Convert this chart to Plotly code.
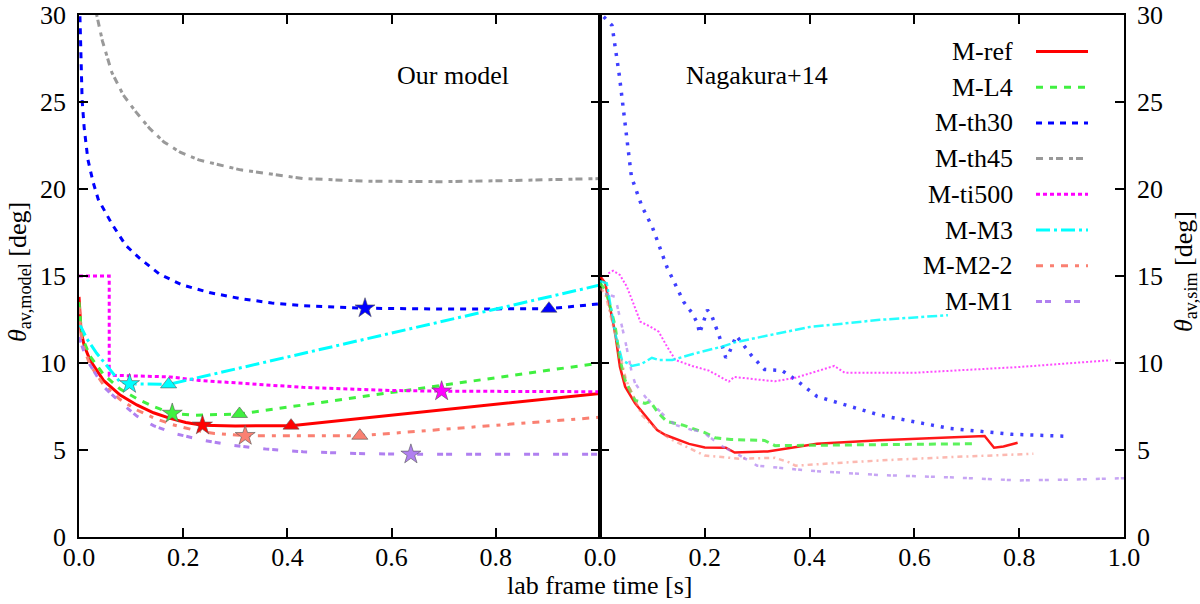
import plotly.graph_objects as go

# ---------------- data: left panel (our model) ----------------
ref_t = [0, 0.004, 0.01, 0.021, 0.047, 0.079, 0.111, 0.143, 0.175, 0.205, 0.237, 0.3, 0.407, 1.0]
ref_v = [13.8, 11.8, 11.0, 10.17, 9.0, 8.16, 7.59, 7.14, 6.82, 6.58, 6.42, 6.38, 6.4, 8.25]

l4_t = [0, 0.004, 0.01, 0.021, 0.047, 0.079, 0.111, 0.143, 0.179, 0.22, 0.308, 1.0]
l4_v = [13.5, 12.0, 11.2, 10.4, 9.35, 8.5, 7.95, 7.5, 7.1, 7.0, 7.07, 10.0]

th30_t = [0, 0.002, 0.004, 0.006, 0.01, 0.017, 0.027, 0.037, 0.063, 0.09, 0.117, 0.155, 0.197, 0.25, 0.31, 0.37, 0.43, 0.549, 0.7, 0.902, 1.0]
th30_v = [32, 30, 28, 25.1, 23.5, 21.7, 20.4, 19.4, 18.0, 16.75, 16.0, 15.1, 14.5, 14.05, 13.7, 13.45, 13.3, 13.15, 13.1, 13.12, 13.4]

th45_t = [0.025, 0.034, 0.045, 0.063, 0.085, 0.11, 0.135, 0.163, 0.195, 0.23, 0.31, 0.43, 0.55, 0.7, 0.85, 1.0]
th45_v = [32, 30, 28.5, 26.7, 25.4, 24.4, 23.5, 22.7, 22.1, 21.67, 21.1, 20.6, 20.45, 20.42, 20.5, 20.6]

ti500_t = [0, 0.058, 0.058, 0.175, 0.23, 0.43, 0.6, 0.696, 1.0]
ti500_v = [15, 15, 9.3, 9.2, 9.0, 8.6, 8.42, 8.38, 8.35]

m3_t = [0, 0.015, 0.034, 0.06, 0.079, 0.097, 0.172, 1.0]
m3_v = [12.3, 11.4, 10.56, 9.6, 8.9, 8.8, 8.77, 14.48]

m22_t = [0, 0.004, 0.01, 0.021, 0.047, 0.079, 0.111, 0.143, 0.18, 0.22, 0.26, 0.319, 0.539, 1.0]
m22_v = [13.2, 11.6, 10.8, 9.9, 8.75, 7.9, 7.3, 6.85, 6.45, 6.15, 5.95, 5.82, 5.82, 6.88]

m1_t = [0, 0.01, 0.021, 0.047, 0.079, 0.111, 0.143, 0.184, 0.24, 0.297, 0.36, 0.43, 0.53, 0.637, 1.0]
m1_v = [11.5, 10.6, 9.9, 8.64, 7.75, 6.95, 6.4, 5.94, 5.55, 5.26, 5.05, 4.9, 4.8, 4.75, 4.75]

# markers (stars and triangles) on the model curves
star_t = {"M-ref": 0.237, "M-L4": 0.179, "M-th30": 0.549, "M-ti500": 0.696, "M-M3": 0.097, "M-M2-2": 0.319, "M-M1": 0.637}
star_v = {"M-ref": 6.42, "M-L4": 7.1, "M-th30": 13.15, "M-ti500": 8.38, "M-M3": 8.8, "M-M2-2": 5.82, "M-M1": 4.75}
tri_t = {"M-ref": 0.407, "M-L4": 0.308, "M-th30": 0.902, "M-M3": 0.172, "M-M2-2": 0.539}
tri_v = {"M-ref": 6.4, "M-L4": 7.07, "M-th30": 13.12, "M-M3": 8.77, "M-M2-2": 5.82}

# ---------------- data: right panel (Nagakura+14) ----------------
s_ref_t = [0.0, 0.01, 0.019, 0.029, 0.038, 0.048, 0.067, 0.083, 0.096, 0.109, 0.125, 0.15, 0.17, 0.2, 0.24, 0.257, 0.32, 0.414, 0.534, 0.734, 0.752, 0.77, 0.797]
s_ref_v = [15.0, 14.6, 13.2, 11.7, 9.79, 8.64, 7.68, 7.1, 6.63, 6.15, 5.86, 5.57, 5.35, 5.15, 5.13, 4.85, 4.92, 5.36, 5.56, 5.8, 5.13, 5.2, 5.42]

s_l4_t = [0.0, 0.01, 0.019, 0.029, 0.038, 0.048, 0.067, 0.086, 0.096, 0.112, 0.128, 0.157, 0.2, 0.22, 0.25, 0.314, 0.334, 0.5, 0.714]
s_l4_v = [14.6, 14.2, 13.3, 12.1, 10.2, 9.0, 7.85, 7.68, 7.78, 7.1, 6.63, 6.44, 6.0, 5.7, 5.6, 5.55, 5.25, 5.3, 5.36]

s_th30_t = [0.007, 0.023, 0.037, 0.05, 0.06, 0.08, 0.1, 0.128, 0.16, 0.176, 0.186, 0.19, 0.198, 0.205, 0.214, 0.228, 0.24, 0.246, 0.26, 0.29, 0.314, 0.347, 0.373, 0.414, 0.534, 0.667, 0.787, 0.89]
s_th30_v = [29.9, 29.4, 26.5, 23.2, 20.7, 19.0, 17.8, 15.5, 13.5, 12.86, 12.28, 11.7, 12.47, 13.05, 12.66, 11.5, 10.3, 10.55, 11.57, 10.4, 9.63, 9.57, 9.05, 8.08, 7.0, 6.24, 5.9, 5.79]

s_ti500_t = [0.016, 0.025, 0.038, 0.051, 0.064, 0.077, 0.096, 0.112, 0.128, 0.144, 0.176, 0.208, 0.246, 0.256, 0.3, 0.334, 0.373, 0.447, 0.467, 0.6, 0.8, 0.974]
s_ti500_v = [15.15, 15.3, 15.06, 14.4, 13.4, 12.37, 12.09, 11.8, 10.94, 10.17, 9.83, 9.56, 8.93, 9.2, 9.05, 8.95, 9.15, 9.83, 9.44, 9.44, 9.77, 10.16]

s_m3_t = [0.0, 0.013, 0.029, 0.042, 0.061, 0.08, 0.099, 0.112, 0.138, 0.182, 0.233, 0.259, 0.4, 0.534, 0.664]
s_m3_v = [14.7, 14.58, 11.7, 10.17, 9.83, 9.96, 10.3, 10.17, 10.17, 10.56, 10.94, 11.2, 12.07, 12.48, 12.75]

s_m22_t = [0.0, 0.01, 0.03, 0.05, 0.08, 0.1, 0.133, 0.2, 0.267, 0.334, 0.36, 0.373, 0.45, 0.534, 0.667, 0.827]
s_m22_v = [14.3, 14.0, 11.5, 9.0, 7.0, 6.4, 5.65, 4.68, 4.5, 4.55, 4.3, 4.1, 4.25, 4.4, 4.59, 4.78]

s_m1_t = [0.01, 0.029, 0.035, 0.048, 0.061, 0.067, 0.086, 0.105, 0.125, 0.144, 0.176, 0.195, 0.218, 0.234, 0.267, 0.3, 0.4, 0.534, 0.667, 0.8, 0.9, 1.0]
s_m1_v = [14.0, 13.8, 13.0, 11.3, 9.4, 8.83, 8.07, 7.5, 6.9, 6.44, 6.15, 6.05, 5.57, 5.2, 4.68, 4.1, 3.81, 3.56, 3.43, 3.25, 3.3, 3.38]

names = ["M-ref", "M-L4", "M-th30", "M-th45", "M-ti500", "M-M3", "M-M2-2", "M-M1"]
model_t = [ref_t, l4_t, th30_t, th45_t, ti500_t, m3_t, m22_t, m1_t]
model_v = [ref_v, l4_v, th30_v, th45_v, ti500_v, m3_v, m22_v, m1_v]
sim_t = [s_ref_t, s_l4_t, s_th30_t, None, s_ti500_t, s_m3_t, s_m22_t, s_m1_t]
sim_v = [s_ref_v, s_l4_v, s_th30_v, None, s_ti500_v, s_m3_v, s_m22_v, s_m1_v]

x_ticks_left = [0.0, 0.2, 0.4, 0.6, 0.8]
x_ticks_right = [0.0, 0.2, 0.4, 0.6, 0.8, 1.0]
y_ticks = [0, 5, 10, 15, 20, 25, 30]

# ---------------- styles ----------------
colors = {"M-ref": "#ff0000", "M-L4": "#40f040", "M-th30": "#0000ff", "M-th45": "#999999",
          "M-ti500": "#ff00ff", "M-M3": "#00ffff", "M-M2-2": "#fa8072", "M-M1": "#b080f0"}
dashes = {"M-ref": "solid", "M-L4": "7px,7px", "M-th30": "6px,6px", "M-th45": "7px,6px,4px,3px",
          "M-ti500": "4px,3px", "M-M3": "14px,4px,3px,4px", "M-M2-2": "7px,7px,4px,7px",
          "M-M1": "6px,3px,6px,14px"}
sim_dashes = {"M-ref": "solid", "M-L4": "7px,5px", "M-th30": "3px,7px", "M-ti500": "2px,2px",
              "M-M3": "10px,3px,3px,3px", "M-M2-2": "5px,4px,2px,4px", "M-M1": "4px,2px,4px,9px"}
sim_width = {"M-ref": 2.5, "M-L4": 3, "M-th30": 3.5, "M-ti500": 2, "M-M3": 2.5, "M-M2-2": 2.5, "M-M1": 2.5}
sim_opacity = {"M-ref": 0.9, "M-L4": 0.85, "M-th30": 0.75, "M-ti500": 0.7, "M-M3": 0.85, "M-M2-2": 0.55, "M-M1": 0.7}

FONT = "Liberation Serif, Times New Roman, DejaVu Serif, serif"
FS = 26

fig = go.Figure()

for i, n in enumerate(names):
    fig.add_trace(go.Scatter(x=model_t[i], y=model_v[i], mode="lines", xaxis="x", yaxis="y",
                             line=dict(color=colors[n], width=3, dash=dashes[n]), showlegend=False))
for i, n in enumerate(names):
    if sim_t[i] is None:
        continue
    fig.add_trace(go.Scatter(x=sim_t[i], y=sim_v[i], mode="lines", xaxis="x2", yaxis="y2",
                             opacity=sim_opacity[n],
                             line=dict(color=colors[n], width=sim_width[n], dash=sim_dashes[n]),
                             showlegend=False))
for n in names:
    if n in star_t:
        fig.add_trace(go.Scatter(x=[star_t[n]], y=[star_v[n]], mode="markers", xaxis="x", yaxis="y",
                                 marker=dict(symbol="star", size=15, color=colors[n],
                                             line=dict(color="#555555", width=0.6)), showlegend=False))
    if n in tri_t:
        fig.add_trace(go.Scatter(x=[tri_t[n]], y=[tri_v[n]], mode="markers", xaxis="x", yaxis="y",
                                 marker=dict(symbol="triangle-up", size=14, color=colors[n],
                                             line=dict(color="#555555", width=0.6)), showlegend=False))

axis_common = dict(range=[0, 1], showline=True, linecolor="black", linewidth=1.5, mirror="ticks",
                   ticks="inside", ticklen=9, tickwidth=1.5, tickcolor="black", showgrid=False,
                   zeroline=False, automargin=False, ticklabelstandoff=-4,
                   tickfont=dict(family=FONT, size=FS, color="black"))
yaxis_common = dict(range=[0, 30], showline=True, linecolor="black", linewidth=1.5, mirror="ticks",
                    ticks="inside", ticklen=9, tickwidth=1.5, tickcolor="black", showgrid=False,
                    zeroline=False, automargin=False, tickvals=y_ticks,
                    tickfont=dict(family=FONT, size=FS, color="black"))

xl, xm, xr = 79 / 1200, 600 / 1200, 1124 / 1200
yb, yt = 1 - 537 / 604, 1 - 15 / 604

fig.update_layout(
    width=1200, height=604, margin=dict(l=0, r=0, t=0, b=0, autoexpand=False),
    plot_bgcolor="white", paper_bgcolor="white",
    xaxis=dict(domain=[xl, xm], tickvals=x_ticks_left, tickformat=".1f", anchor="y", **axis_common),
    yaxis=dict(domain=[yb, yt], anchor="x", ticklabelstandoff=6, **yaxis_common),
    xaxis2=dict(domain=[xm, xr], tickvals=x_ticks_right, tickformat=".1f", anchor="y2", **axis_common),
    yaxis2=dict(domain=[yb, yt], anchor="x2", side="right", ticklabelstandoff=6, **yaxis_common),
)

ann = []
ann.append(dict(text="lab frame time [s]", x=0.5, y=1 - 585 / 604, xref="paper", yref="paper",
                showarrow=False, font=dict(family=FONT, size=FS, color="black"), xanchor="center", yanchor="middle"))
ann.append(dict(text="<i>θ</i><sub>av,model</sub> [deg]", x=19 / 1200, y=1 - 272 / 604, xref="paper", yref="paper",
                showarrow=False, textangle=-90, font=dict(family=FONT, size=FS, color="black"),
                xanchor="center", yanchor="middle"))
ann.append(dict(text="<i>θ</i><sub>av,sim</sub> [deg]", x=1185 / 1200, y=1 - 272 / 604, xref="paper", yref="paper",
                showarrow=False, textangle=-90, font=dict(family=FONT, size=FS, color="black"),
                xanchor="center", yanchor="middle"))
ann.append(dict(text="Our model", x=0.718, y=26.5, xref="x", yref="y", showarrow=False,
                font=dict(family=FONT, size=FS, color="black"), xanchor="center", yanchor="middle"))
ann.append(dict(text="Nagakura+14", x=0.30, y=26.5, xref="x2", yref="y2", showarrow=False,
                font=dict(family=FONT, size=FS, color="black"), xanchor="center", yanchor="middle"))

shapes = []
row0, dy = 51.5, 35.7
for i, n in enumerate(names):
    yp = 1 - (row0 + i * dy) / 604
    ann.append(dict(text=n, x=1015 / 1200, y=yp, xref="paper", yref="paper", showarrow=False,
                    font=dict(family=FONT, size=FS, color="black"), xanchor="right", yanchor="middle"))
    shapes.append(dict(type="line", xref="paper", yref="paper", x0=1036 / 1200, x1=1088 / 1200, y0=yp, y1=yp,
                       line=dict(color=colors[n], width=3, dash=dashes[n])))

fig.update_layout(annotations=ann, shapes=shapes)
fig.write_html("out.html", config={"displayModeBar": False},
               post_script="document.body.style.margin='0';document.body.style.overflow='hidden';")
